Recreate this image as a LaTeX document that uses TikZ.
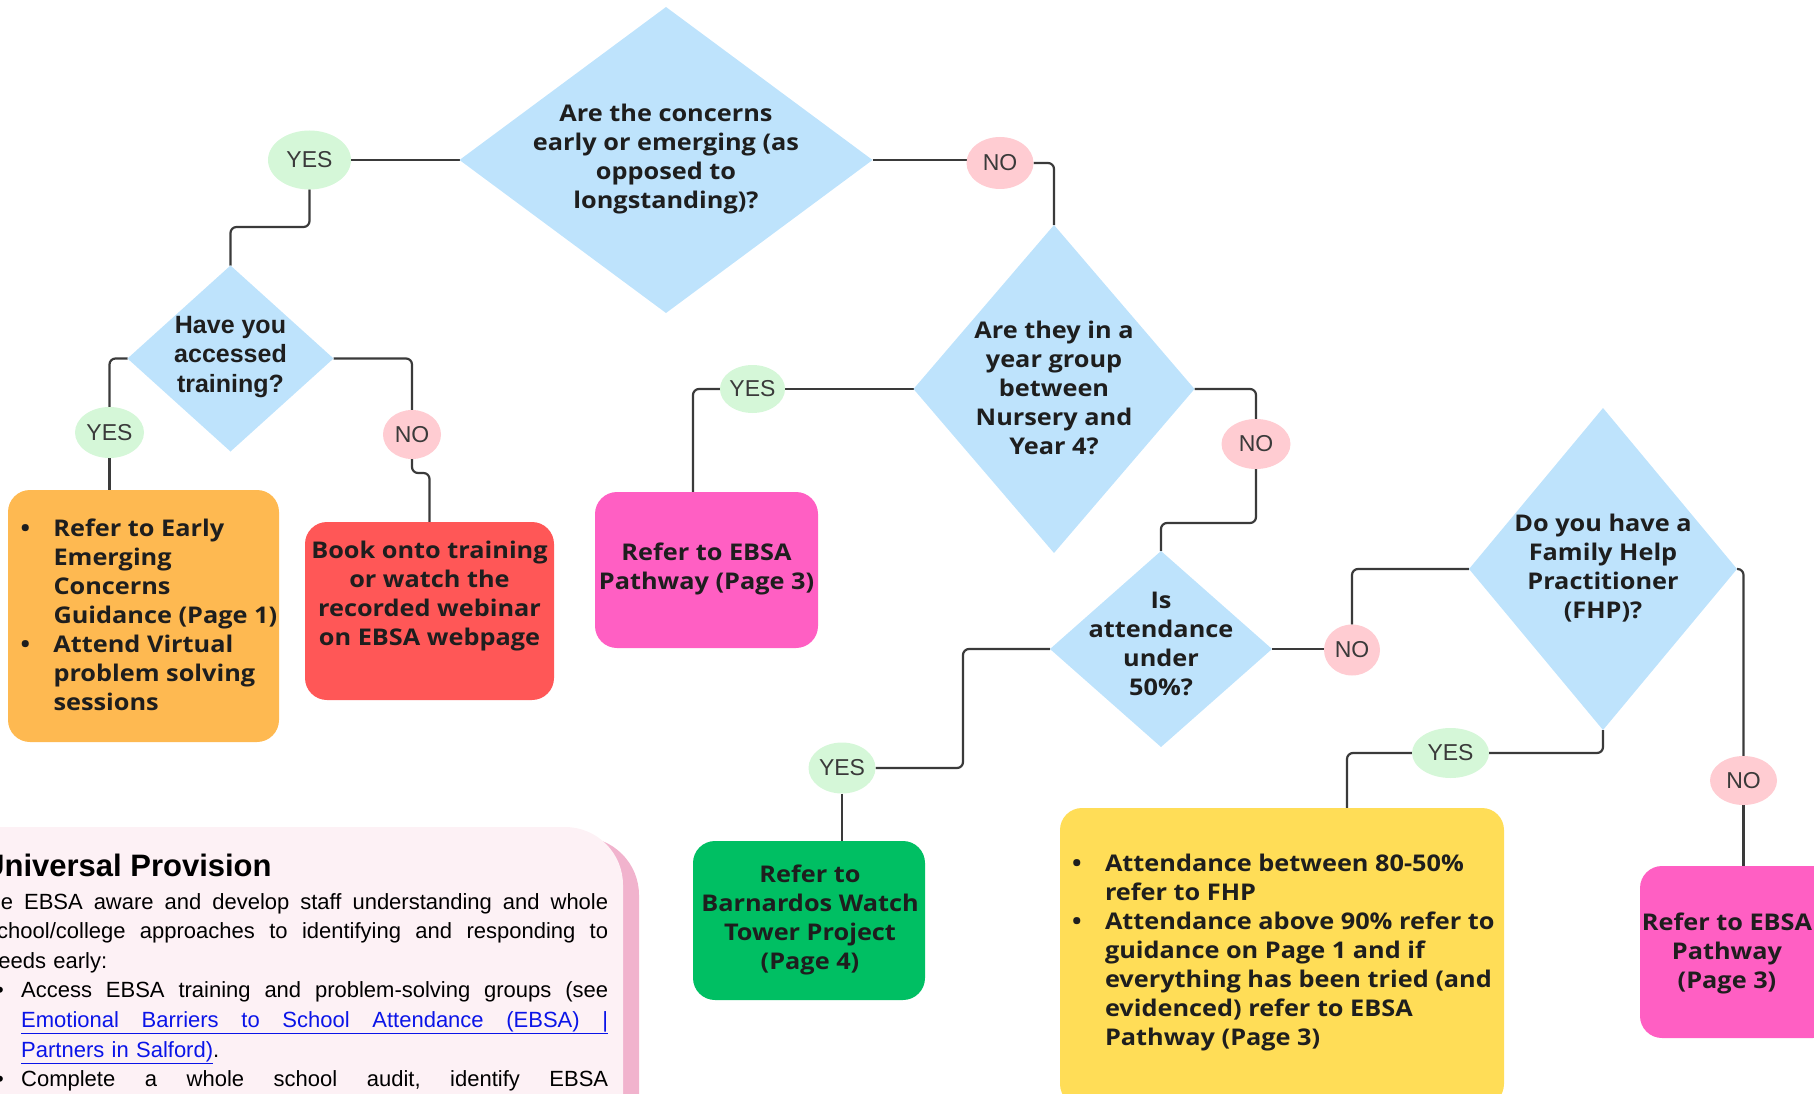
\documentclass[tikz,border=0pt]{standalone}
\usepackage{fontspec}
\setmainfont{Liberation Sans}
\newfontfamily\dfont{Open Sans}[FakeStretch=1.1]
\newfontfamily\afont{Liberation Sans}
\usetikzlibrary{shapes.geometric}
\pgfdeclarelayer{bg}
\pgfsetlayers{bg,main}
\definecolor{diablue}{HTML}{BEE3FC}
\definecolor{yesfill}{HTML}{D5F7D8}
\definecolor{nofill}{HTML}{FFCCD2}
\definecolor{orangec}{HTML}{FEB951}
\definecolor{redc}{HTML}{FF5757}
\definecolor{pinkc}{HTML}{FF5FC3}
\definecolor{greenc}{HTML}{00BF63}
\definecolor{yellowc}{HTML}{FFDD57}
\definecolor{upfill}{HTML}{FDF1F5}
\definecolor{upshadow}{HTML}{F1B3CD}
\definecolor{linkblue}{HTML}{0A14E8}
\definecolor{linecol}{HTML}{3A3A3A}
\definecolor{textdark}{HTML}{1E1E1E}
\definecolor{lbltext}{HTML}{3A3A3A}
\newcommand{\dtxt}{\fontsize{23pt}{29pt}\dfont\bfseries\selectfont}
\newcommand{\atxt}{\fontsize{25pt}{29.5pt}\afont\bfseries\selectfont}
\newcommand{\lbltxt}{\fontsize{23pt}{27pt}\selectfont}
\newcommand{\ctab}[1]{\begin{tabular}[t]{@{}c@{}}#1\end{tabular}}
\newcommand{\ltab}[1]{\begin{tabular}[t]{@{}l@{}}#1\end{tabular}}
\newcommand{\bul}{\makebox[33pt][l]{\textbullet}}
\newcommand{\ind}{\hspace*{33pt}}
\newcommand{\just}[2]{\makebox[#1][s]{\frenchspacing\spaceskip=0pt plus 1fil\xspaceskip=0pt plus 1fil\relax #2}}
\tikzset{
  dia/.style={diamond, fill=diablue, draw=none, inner sep=0pt, outer sep=0pt},
  yesl/.style={ellipse, fill=yesfill, inner sep=0pt, outer sep=0pt, font=\lbltxt, text=lbltext},
  nol/.style={ellipse, fill=nofill, inner sep=0pt, outer sep=0pt, font=\lbltxt, text=lbltext},
  boxn/.style={rectangle, rounded corners=22pt, inner sep=0pt, outer sep=0pt},
  conn/.style={draw=linecol, line width=2.2pt, rounded corners=6pt},
  dtext/.style={inner sep=0pt, outer sep=0pt, font=\dtxt, text=textdark},
}
\begin{document}
\begin{tikzpicture}[x=1pt,y=-1pt]
\useasboundingbox (0,0) rectangle (1814,1094);
\clip (0,0) rectangle (1814,1094);

% Universal provision panel
\fill[upshadow, rounded corners=58pt] (-80,837) rectangle (639,1200);
\fill[upfill, rounded corners=58pt] (-96,827) rectangle (623,1200);
\node[anchor=base west, inner sep=0pt, font=\fontsize{31pt}{34pt}\selectfont\bfseries] (uptitle) at (-18,876) {Universal Provision};
\node[anchor=base west, inner sep=0pt, text width=622pt,
      font=\fontsize{22pt}{29.6pt}\selectfont] (upbody) at (-14,909) {%
\just{622pt}{Be EBSA aware and develop staff understanding and whole}\\
\just{622pt}{school/college approaches to identifying and responding to}\\
needs early:\\
\makebox[35pt][l]{\hspace{10pt}\textbullet}\just{587pt}{Access EBSA training and problem-solving groups (see}\\
\hspace*{35pt}\textcolor{linkblue}{\underline{\just{587pt}{Emotional Barriers to School Attendance (EBSA) |}}}\\
\hspace*{35pt}\textcolor{linkblue}{\underline{Partners in Salford)}}.\\
\makebox[35pt][l]{\hspace{10pt}\textbullet}\just{587pt}{Complete a whole school audit, identify EBSA}};

% Diamonds
\node[dia, minimum width=413pt, minimum height=306pt] (q1) at (666,160) {};
\node[dia, minimum width=206pt, minimum height=186pt] (q2) at (230.5,358.5) {};
\node[dia, minimum width=281pt, minimum height=328pt] (q3) at (1054,389) {};
\node[dia, minimum width=222pt, minimum height=196pt] (q4) at (1161,649) {};
\node[dia, minimum width=268pt, minimum height=322pt] (q5) at (1603,569) {};

% Boxes
\node[boxn, fill=orangec, minimum width=271pt, minimum height=252pt] (b1) at (143.5,616) {};
\node[boxn, fill=redc, minimum width=249pt, minimum height=178pt] (b2) at (429.5,611) {};
\node[boxn, fill=pinkc, minimum width=223pt, minimum height=156pt] (b3) at (706.5,570) {};
\node[boxn, fill=greenc, minimum width=232pt, minimum height=159pt] (b4) at (809,920.5) {};
\node[boxn, fill=yellowc, minimum width=444pt, minimum height=298pt] (b5) at (1282,957) {};
\node[boxn, fill=pinkc, minimum width=195pt, minimum height=172pt] (b6) at (1737.5,952) {};

% Yes / No labels
\node[yesl, minimum width=83pt, minimum height=59pt] (y1) at (309.5,160) {YES};
\node[nol,  minimum width=67pt, minimum height=52pt] (n1) at (1000,163) {NO};
\node[yesl, minimum width=69pt, minimum height=51pt] (y2) at (109.5,432.5) {YES};
\node[nol,  minimum width=58pt, minimum height=49pt] (n2) at (412,434.5) {NO};
\node[yesl, minimum width=59pt, minimum height=48pt] (y3) at (752.5,389) {YES};
\node[nol,  minimum width=69pt, minimum height=50pt] (n3) at (1256,444) {NO};
\node[yesl, minimum width=67pt, minimum height=51pt] (y4) at (842,768) {YES};
\node[nol,  minimum width=56pt, minimum height=51pt] (n4) at (1352,650) {NO};
\node[yesl, minimum width=77pt, minimum height=50pt] (y5) at (1450.5,753) {YES};
\node[nol,  minimum width=67pt, minimum height=49pt] (n5) at (1743.5,780.5) {NO};

% Texts
\node[dtext, anchor=base] (q1t) at (666,122) {\ctab{Are the concerns\\early or emerging (as\\opposed to\\longstanding)?}};
\node[inner sep=0pt, font=\atxt, text=textdark, anchor=base] (q2t) at (230.5,333) {\ctab{Have you\\accessed\\training?}};
\node[dtext, anchor=base] (q3t) at (1054,338.5) {\ctab{Are they in a\\year group\\between\\Nursery and\\Year 4?}};
\node[dtext, anchor=base] (q4t) at (1161,608) {\ctab{Is\\attendance\\under\\50\%?}};
\node[dtext, anchor=base] (q5t) at (1603,531.5) {\ctab{Do you have a\\Family Help\\Practitioner\\(FHP)?}};

\node[dtext, anchor=base west] (b1t) at (20.5,536) {\ltab{\bul Refer to Early\\\ind Emerging\\\ind Concerns\\\ind Guidance (Page 1)\\\bul Attend Virtual\\\ind problem solving\\\ind sessions}};
\node[dtext, anchor=base] (b2t) at (429.5,558.3) {\ctab{Book onto training\\or watch the\\recorded webinar\\on EBSA webpage}};
\node[dtext, anchor=base] (b3t) at (706.5,560) {\ctab{Refer to EBSA\\Pathway (Page 3)}};
\node[dtext, anchor=base] (b4t) at (810,882) {\ctab{Refer to\\Barnardos Watch\\Tower Project\\(Page 4)}};
\node[dtext, anchor=base west] (b5t) at (1072,871.7) {\ltab{\bul Attendance between 80-50\%\\\ind refer to FHP\\\bul Attendance above 90\% refer to\\\ind guidance on Page 1 and if\\\ind everything has been tried (and\\\ind evidenced) refer to EBSA\\\ind Pathway (Page 3)}};
\node[dtext, anchor=base] (b6t) at (1727,930) {\ctab{Refer to EBSA\\Pathway\\(Page 3)}};

% Connectors
\coordinate (j1) at (230.5,227);
\coordinate (j2) at (429.5,473);
\coordinate (j3) at (1161,523);
\coordinate (j4) at (963,0);
\begin{pgfonlayer}{bg}
\draw[conn] (q1.west) -- (y1.east);
\draw[conn] (y1.south) |- (j1) -- (q2.north);
\draw[conn] (q2.west) -| (y2.north);
\draw[conn] (y2.south) -- (y2.south |- b1.north);
\draw[conn] (q2.east) -| (n2.north);
\draw[conn] (n2.south) |- (j2) -- (b2.north);
\draw[conn] (q1.east) -- (q1.east -| n1.west);
\draw[conn] (n1.east) -| (q3.north);
\draw[conn] (q3.west) -- (y3.east);
\draw[conn] (y3.west) -| ([xshift=-13.5pt]b3.north);
\draw[conn] (q3.east) -| (n3.north);
\draw[conn] (n3.south) |- (j3) -- (q4.north);
\draw[conn] (q4.west) -| (y4.east -| j4) -- (y4.east);
\draw[conn] (y4.south) -- (y4.south |- b4.north);
\draw[conn] (q4.east) -- (q4.east -| n4.west);
\draw[conn] (n4.north) |- (q5.west);
\draw[conn] (q5.south) |- (y5.east);
\draw[conn] (y5.west) -| ([xshift=65pt]b5.north);
\draw[conn] (q5.east) -| (n5.north);
\draw[conn] (n5.south) -- (n5.south |- b6.north);
\end{pgfonlayer}
\end{tikzpicture}
\end{document}
